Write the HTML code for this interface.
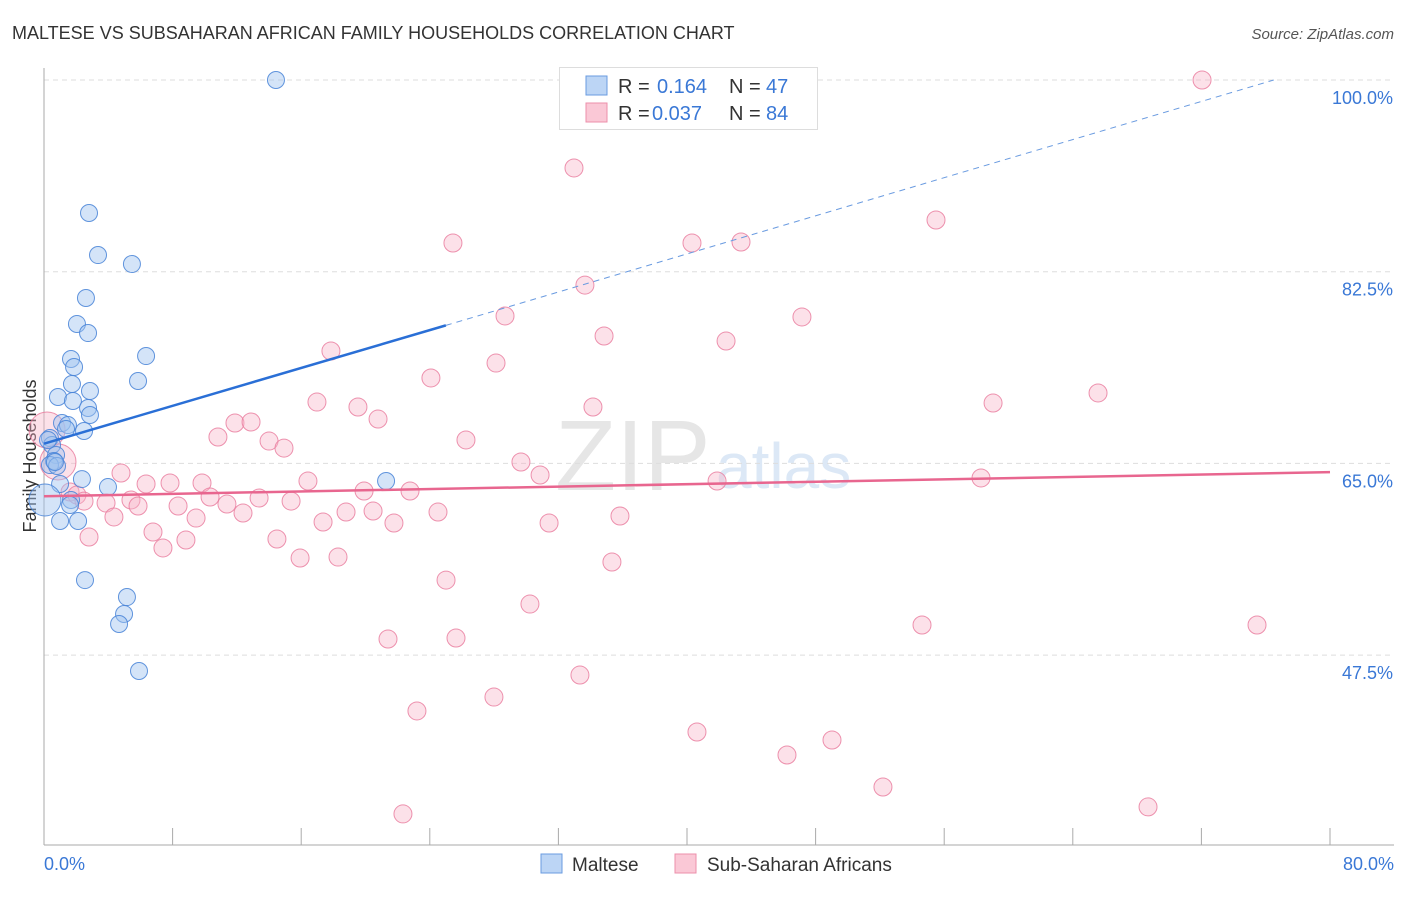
<!DOCTYPE html>
<html><head><meta charset="utf-8"><style>
body{margin:0;background:#fff;font-family:"Liberation Sans",sans-serif;}
svg text{font-family:"Liberation Sans",sans-serif;}
</style></head><body>
<svg id="chart" width="1406" height="892" xmlns="http://www.w3.org/2000/svg">
<text x="12" y="39" font-size="18" fill="#333">MALTESE VS SUBSAHARAN AFRICAN FAMILY HOUSEHOLDS CORRELATION CHART</text>
<text x="1394" y="39" font-size="15" fill="#555" text-anchor="end" font-style="italic">Source: ZipAtlas.com</text>
<text x="555" y="490" font-size="100" fill="#e6e6e6" font-family="Liberation Serif">ZIP</text>
<text x="716" y="488" font-size="64" fill="#dce8f6">atlas</text>
<g id="grid"></g>
<line x1="44" y1="68" x2="44" y2="845" stroke="#aaa"/>
<line x1="44" y1="845" x2="1394" y2="845" stroke="#aaa"/>
<g id="xticks"></g>
<text x="36" y="456" font-size="18" fill="#333" text-anchor="middle" transform="rotate(-90 36 456)">Family Households</text>
<text x="44" y="870" font-size="18" fill="#3a78d6">0.0%</text>
<text x="1394" y="870" font-size="18" fill="#3a78d6" text-anchor="end">80.0%</text>
<g id="pts"></g>
<g id="lines"></g>
<g>
<rect x="559.5" y="67.5" width="258" height="62" fill="#fff" stroke="#ddd"/>
<rect x="586" y="76" width="21" height="19" fill="#bcd5f5" stroke="#6a9be0"/>
<rect x="586" y="103" width="21" height="19" fill="#fac8d6" stroke="#ec8fab"/>
<text x="618" y="93" font-size="20" fill="#333">R = </text><text x="657" y="93" font-size="20" fill="#3a78d6">0.164</text>
<text x="729" y="93" font-size="20" fill="#333">N = </text><text x="766" y="93" font-size="20" fill="#3a78d6">47</text>
<text x="618" y="120" font-size="20" fill="#333">R = </text><text x="652" y="120" font-size="20" fill="#3a78d6">0.037</text>
<text x="729" y="120" font-size="20" fill="#333">N = </text><text x="766" y="120" font-size="20" fill="#3a78d6">84</text>
</g>
<g>
<rect x="541" y="854" width="21" height="19" fill="#bcd5f5" stroke="#6a9be0"/>
<text x="572" y="871" font-size="19" fill="#333">Maltese</text>
<rect x="675" y="854" width="21" height="19" fill="#fac8d6" stroke="#ec8fab"/>
<text x="707" y="871" font-size="19" fill="#333">Sub-Saharan Africans</text>
</g>
</svg>
<script>
const yTicks=[100,82.5,65,47.5];
const xTickVals=[0,8,16,24,32,40,48,56,64,72,80];
const malteseX=[14.43,2.8,3.36,5.47,2.61,2.05,2.74,6.35,1.68,1.87,5.85,2.86,1.74,0.87,1.8,2.74,2.86,1.12,1.49,1.37,2.49,0.37,0.5,0.75,0.62,0.37,0.81,1.0,2.36,3.98,1.68,1.62,1.0,2.12,2.55,5.16,4.98,4.67,5.91,21.28,0.06,0.25,0.68];
const malteseY=[100,87.86,84.02,83.2,80.1,77.73,76.9,74.8,74.53,73.8,72.52,71.61,72.25,71.06,70.7,70.06,69.42,68.69,68.5,68.14,67.96,67.32,66.68,65.77,65.22,64.85,64.76,63.12,63.57,62.84,61.66,61.2,59.74,59.74,54.35,52.8,51.25,50.34,46.05,63.39,61.66,67.14,65.13];
const africanX=[72.04,32.97,55.49,25.44,40.31,43.36,33.65,28.68,47.15,34.84,42.43,17.85,28.12,24.07,65.57,16.98,19.53,59.04,34.15,20.78,11.88,12.88,10.82,26.25,14.0,14.93,29.67,4.79,30.86,41.87,58.29,16.42,6.35,7.84,9.83,19.91,22.77,1.62,2.05,10.33,15.37,13.38,5.41,3.86,2.49,11.38,8.34,5.85,12.38,18.79,20.47,24.51,35.83,4.35,9.46,17.36,21.77,31.42,6.78,2.8,8.83,7.4,14.49,15.93,18.29,35.33,25.01,30.23,21.4,25.63,54.62,75.46,33.34,27.99,23.2,40.62,46.22,49.02,52.19,68.68,22.33,0.19,0.87];
const africanY=[100,91.97,87.22,85.12,85.12,85.21,81.28,78.46,78.37,76.63,76.17,75.26,74.16,72.8,71.43,70.6,70.15,70.51,70.15,69.05,68.69,68.78,67.41,67.14,67.04,66.4,65.13,64.12,63.94,63.39,63.67,63.39,63.12,63.21,63.21,62.48,62.48,62.39,62.11,61.93,61.56,61.84,61.66,61.38,61.56,61.29,61.11,61.11,60.47,60.56,60.65,60.56,60.2,60.11,60.01,59.65,59.56,59.56,58.74,58.28,58.01,57.28,58.1,56.36,56.45,56.0,54.35,52.16,48.97,49.06,50.25,50.25,45.68,43.67,42.4,40.48,38.38,39.75,35.46,33.64,33.0,68.05,65.13];
const X0=44,X1=1330,Yb=845;
const sx=v=>X0+(v/80)*(X1-X0);
const sy=v=>80+(100-v)*(191.7/17.5);
const NS="http://www.w3.org/2000/svg";
function mk(t,a,p){const e=document.createElementNS(NS,t);for(const k in a)e.setAttribute(k,a[k]);p.appendChild(e);return e;}
const grid=document.getElementById('grid');
yTicks.forEach(v=>{
 const l=mk('line',{x1:X0,x2:1394,y1:sy(v),y2:sy(v),stroke:'#ddd','stroke-dasharray':'5,4'},grid);
 
 
 const t=mk('text',{x:1393,y:sy(v)+24,'font-size':18,fill:'#3a78d6','text-anchor':'end'},grid);
 t.textContent=v.toFixed(1)+'%';
 
 
});
const xt=document.getElementById('xticks');
xTickVals.forEach(v=>{
 const l=mk('line',{x1:sx(v),x2:sx(v),y1:828,y2:845,stroke:'#aaa'},xt);
 
 
});
const pts=document.getElementById('pts');
africanX.forEach((x,i)=>{
 const big=i>=africanX.length-2;
 const c=mk('circle',{cx:sx(x),cy:sy(africanY[i]),r:big?18:9,fill:'rgba(248,180,200,0.4)',stroke:'rgba(232,120,155,0.8)','stroke-width':1},pts);
 
 
});
malteseX.forEach((x,i)=>{
 const big=i==40;
 const c=mk('circle',{cx:sx(x),cy:sy(malteseY[i]),r:big?16:8.5,fill:'rgba(160,195,240,0.45)',stroke:'rgba(70,130,215,0.85)','stroke-width':1},pts);
 
 
});
const lg=document.getElementById('lines');
const bl=mk('line',{x1:sx(0),y1:sy(66.8),x2:sx(25),y2:sy(77.6),stroke:'#2a6fd6','stroke-width':2.5},lg);


const bd=mk('line',{x1:sx(25),y1:sy(77.6),x2:sx(76.5),y2:sy(100),stroke:'#6a9be0','stroke-width':1,'stroke-dasharray':'6,5'},lg);


const pl=mk('line',{x1:sx(0),y1:sy(62),x2:sx(80),y2:sy(64.2),stroke:'#e8668f','stroke-width':2.5},lg);


</script>
</body></html>
